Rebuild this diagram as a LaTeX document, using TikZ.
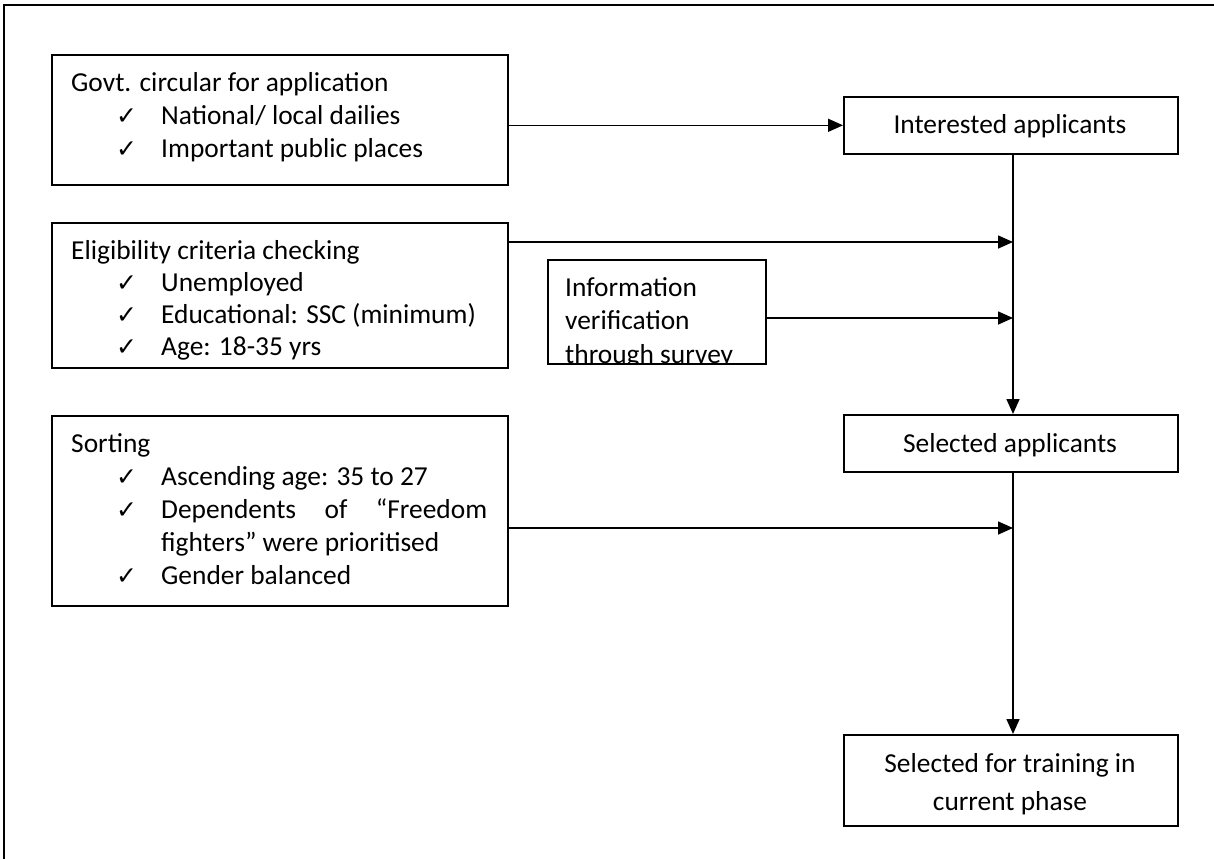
\documentclass[tikz,border=0pt]{standalone}
\usepackage{fontspec}
\setmainfont{Carlito}
\newfontfamily\symfont{DejaVu Sans}
\usetikzlibrary{arrows.meta}
\begin{document}
\begin{tikzpicture}[x=1pt,y=-1pt,
  box/.style={draw, line width=1.6pt, inner sep=0pt, anchor=north west},
  txt/.style={anchor=base west, inner sep=0pt, font=\fontsize{27.4}{33}\selectfont},
  ctxt/.style={anchor=base, inner sep=0pt, font=\fontsize{27.4}{33}\selectfont},
  chk/.style={anchor=base west, inner sep=0pt, font=\symfont\fontsize{25}{25}\selectfont},
  arr/.style={line width=1.6pt, -{Triangle[length=15pt,width=13pt]}}]
\useasboundingbox (0,0) rectangle (1214,859);
% outer frame
\draw[line width=2pt] (1214,5) -- (4,5) -- (4,859);
% boxes
\node[box, minimum width=456pt, minimum height=145pt] (elig) at (51,222) {};
\node[box, minimum width=456pt, minimum height=130pt] (gov) at (51,54) {};
\node[box, minimum width=334pt, minimum height=57pt] (int) at (843,96) {};
\node[box, minimum width=218pt, minimum height=104pt] (info) at (547,259) {};
\node[box, minimum width=334pt, minimum height=57pt] (sel) at (843,414) {};
\node[box, minimum width=456pt, minimum height=190pt] (sort) at (51,415) {};
\node[box, minimum width=334pt, minimum height=91pt] (final) at (843,734) {};
% texts
\node[txt] (g0) at (71,91) {Govt. circular for application};
\node[chk] (gc1) at (116,124) {✓};
\node[txt] (g1) at (161,124) {National/ local dailies};
\node[chk] (gc2) at (116,157) {✓};
\node[txt] (g2) at (161,157) {Important public places};

\node[ctxt] (it) at (1010,133) {Interested applicants};

\node[txt] (e0) at (71,259) {Eligibility criteria checking};
\node[chk] (ec1) at (116,291) {✓};
\node[txt] (e1) at (161,291) {Unemployed};
\node[chk] (ec2) at (116,323) {✓};
\node[txt] (e2) at (161,323) {Educational: SSC (minimum)};
\node[chk] (ec3) at (116,355) {✓};
\node[txt] (e3) at (161,355) {Age: 18-35 yrs};

\begin{scope}
\clip (info.north west) rectangle (info.south east);
\node[txt] (i0) at (565,296) {Information};
\node[txt] (i1) at (565,329) {verification};
\node[txt] (i2) at (565,363) {through survey};
\end{scope}

\node[ctxt] (st) at (1010,452) {Selected applicants};

\node[txt] (s0) at (71,452) {Sorting};
\node[chk] (sc1) at (116,485) {✓};
\node[txt] (s1) at (161,485) {Ascending age: 35 to 27};
\node[chk] (sc2) at (116,518) {✓};
\node[txt] (s2) at (161,518) {\makebox[326pt][s]{Dependents\hfill of\hfill “Freedom}};
\node[txt] (s3) at (161,551) {fighters” were prioritised};
\node[chk] (sc3) at (116,584) {✓};
\node[txt] (s4) at (161,584) {Gender balanced};

\node[ctxt] (f1) at (1010,772) {Selected for training in};
\node[ctxt] (f2) at (1010,810) {current phase};
% connectors
\coordinate (j1) at (1013,242);
\coordinate (j2) at (1013,318);
\coordinate (j3) at (1013,528);
\draw[arr] (gov.east |- int.west) -- (int.west);
\draw[arr] (int.south -| j1) -- (sel.north -| j1);
\draw[arr] (sel.south -| j1) -- (final.north -| j1);
\draw[arr] (elig.east |- j1) -- (j1);
\draw[arr] (info.east |- j2) -- (j2);
\draw[arr] (sort.east |- j3) -- (j3);
\end{tikzpicture}
\end{document}
